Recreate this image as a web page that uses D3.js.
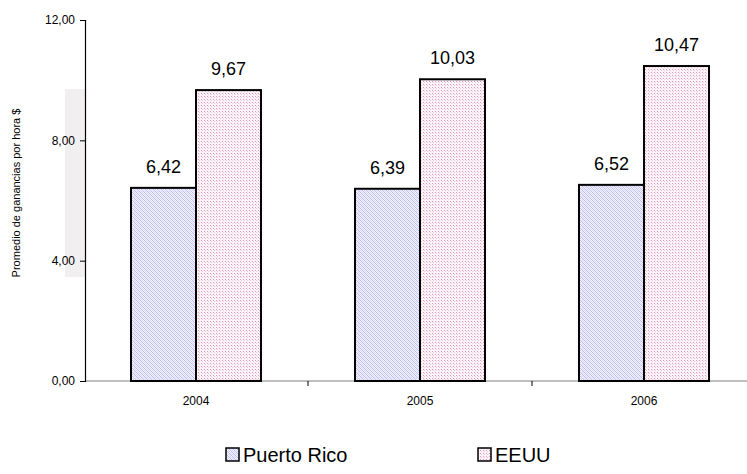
<!DOCTYPE html>
<html>
<head>
<meta charset="utf-8">
<script src="https://cdn.jsdelivr.net/npm/d3@7"></script>
<style>
  body { margin: 0; background: #fff; }
  text { font-family: Arial, "Liberation Sans", sans-serif; }
</style>
</head>
<body>
<div id="chart"></div>
<script>
// data
const years = ["2004", "2005", "2006"];
const seriesNames = ["Puerto Rico", "EEUU"];
const puertoRico = [6.42, 6.39, 6.52];
const eeuu = [9.67, 10.03, 10.47];
const yTicks = [0, 4, 8, 12];

const W = 747, H = 474;

const svg = d3.select("#chart").append("svg")
    .attr("width", W).attr("height", H);

// fill patterns
const defs = svg.append("defs");
let pr = defs.append("pattern").attr("id", "patPR")
    .attr("patternUnits", "userSpaceOnUse").attr("width", 4).attr("height", 4);
pr.append("rect").attr("width", 4).attr("height", 4).attr("fill", "#f0f1fd");
for (let i = 0; i < 4; i++) {
    pr.append("rect").attr("x", i).attr("y", i % 4).attr("width", 1).attr("height", 1).attr("fill", "#bdbdf3");
    pr.append("rect").attr("x", i).attr("y", (i + 2) % 4).attr("width", 1).attr("height", 1).attr("fill", "#dadaf8");
}
let us = defs.append("pattern").attr("id", "patUS")
    .attr("patternUnits", "userSpaceOnUse").attr("width", 3).attr("height", 3);
us.append("rect").attr("width", 3).attr("height", 3).attr("fill", "#fbf3f7");
us.append("rect").attr("x", 0).attr("y", 0).attr("width", 1).attr("height", 1).attr("fill", "#dc9cb8");
us.append("rect").attr("x", 1).attr("y", 1).attr("width", 1).attr("height", 1).attr("fill", "#eecbdb");

const x0 = d3.scaleBand().domain(years).range([84, 756]).padding(0);
const y = d3.scaleLinear().domain([0, 12]).range([381, 20]);
const barW = 65;

// faint rectangle behind the axis title (present in source image)
svg.append("rect").attr("x", 65).attr("y", 89).attr("width", 20).attr("height", 188)
    .attr("fill", "#f1eff0");

// y axis title
svg.append("text")
    .attr("transform", "translate(20,193) rotate(-90)")
    .attr("text-anchor", "middle")
    .attr("font-size", 11)
    .text("Promedio de ganancias por hora $");

// x axis
svg.append("line").attr("x1", 85).attr("x2", W)
    .attr("y1", y(0)).attr("y2", y(0)).attr("stroke", "#808080").attr("stroke-width", 1.2);
years.slice(1).forEach(yr => {
    svg.append("line").attr("x1", x0(yr)).attr("x2", x0(yr))
        .attr("y1", y(0)).attr("y2", y(0) + 5).attr("stroke", "#000");
});
svg.selectAll(".xlab").data(years).enter().append("text")
    .attr("x", d => x0(d) + x0.bandwidth() / 2)
    .attr("y", y(0) + 24)
    .attr("text-anchor", "middle")
    .attr("font-size", 12)
    .text(d => d);

// y axis
const yAxis = svg.append("g").attr("transform", "translate(85,0)")
    .call(d3.axisLeft(y).tickValues(yTicks).tickSize(5).tickPadding(5)
        .tickFormat(d => d3.format(".2f")(d).replace(".", ",")));
yAxis.select(".domain").attr("stroke", "#000").attr("stroke-width", 1.2);
yAxis.selectAll("text").attr("font-size", 12).attr("fill", "#000")
    .attr("font-family", "Arial, 'Liberation Sans', sans-serif");

// bars
const fmt = v => d3.format(".2f")(v).replace(".", ",");
years.forEach((yr, i) => {
    const cx = x0(yr) + x0.bandwidth() / 2;
    const vals = [puertoRico[i], eeuu[i]];
    vals.forEach((v, j) => {
        const bx = cx - barW + j * barW;
        svg.append("rect")
            .attr("x", bx).attr("y", y(v))
            .attr("width", barW).attr("height", y(0) - y(v))
            .attr("fill", j == 0 ? "url(#patPR)" : "url(#patUS)")
            .attr("stroke", "#000").attr("stroke-width", 2);
        svg.append("text")
            .attr("x", bx + barW / 2).attr("y", y(v) - 15)
            .attr("text-anchor", "middle")
            .attr("font-size", 18)
            .text(fmt(v));
    });
});

// legend
const legX = [226, 478];
seriesNames.forEach((s, j) => {
    svg.append("rect").attr("x", legX[j]).attr("y", 448).attr("width", 13).attr("height", 13)
        .attr("fill", j == 0 ? "url(#patPR)" : "url(#patUS)")
        .attr("stroke", "#000").attr("stroke-width", 1.5);
    svg.append("text").attr("x", legX[j] + 17).attr("y", 462)
        .attr("font-size", 20)
        .text(s);
});
</script>
</body>
</html>
